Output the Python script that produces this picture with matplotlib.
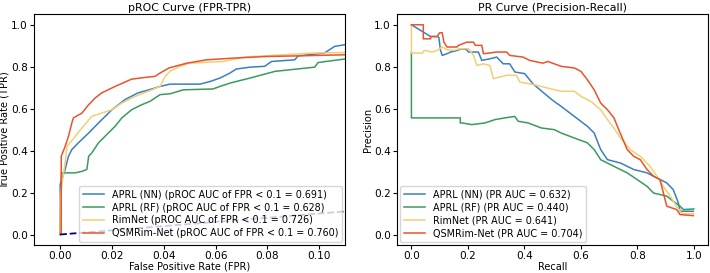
import matplotlib
matplotlib.use("Agg")
import matplotlib.pyplot as plt

# ---------------- data: pROC (FPR, TPR) ----------------
nn_fpr = [0.0, 0.0, 0.0019, 0.0032, 0.0045, 0.007, 0.011, 0.0148, 0.020, 0.025, 0.030, 0.0354,
          0.0386, 0.0424, 0.054, 0.058, 0.0617, 0.0656, 0.068, 0.0733, 0.079, 0.0816, 0.0906,
          0.0919, 0.102, 0.106, 0.11]
nn_tpr = [0.0, 0.24, 0.31, 0.373, 0.405, 0.437, 0.484, 0.532, 0.595, 0.643, 0.675, 0.694,
          0.706, 0.717, 0.717, 0.730, 0.746, 0.770, 0.789, 0.798, 0.802, 0.825, 0.833,
          0.852, 0.865, 0.897, 0.905]

rf_fpr = [0.0, 0.0005, 0.0058, 0.0084, 0.0103, 0.011, 0.0122, 0.0148, 0.0186, 0.0212, 0.0238,
          0.0276, 0.0315, 0.0347, 0.0386, 0.0424, 0.0476, 0.059, 0.0617, 0.0656, 0.0707,
          0.0733, 0.083, 0.0983, 0.0996, 0.11]
rf_tpr = [0.0, 0.294, 0.294, 0.301, 0.31, 0.373, 0.389, 0.437, 0.484, 0.516, 0.556,
          0.595, 0.619, 0.635, 0.667, 0.671, 0.690, 0.694, 0.706, 0.722, 0.738,
          0.746, 0.778, 0.798, 0.820, 0.837]

rim_fpr = [0.0, 0.0, 0.0019, 0.0026, 0.0058, 0.0084, 0.0122, 0.016, 0.020, 0.0238, 0.029,
           0.0354, 0.0386, 0.0405, 0.0424, 0.0463, 0.050, 0.063, 0.0713, 0.097, 0.11]
rim_tpr = [0.0, 0.18, 0.341, 0.42, 0.468, 0.508, 0.563, 0.579, 0.595, 0.627, 0.659,
           0.690, 0.706, 0.754, 0.778, 0.802, 0.817, 0.825, 0.846, 0.865, 0.868]

qsm_fpr = [0.0, 0.0004, 0.0004, 0.0019, 0.0032, 0.0045, 0.0051, 0.0084, 0.011, 0.0135, 0.016,
           0.0212, 0.0276, 0.0328, 0.0366, 0.0386, 0.042, 0.0489, 0.0566, 0.0668, 0.0797,
           0.0926, 0.11]
qsm_tpr = [0.0, 0.008, 0.373, 0.42, 0.468, 0.532, 0.556, 0.579, 0.619, 0.651, 0.675,
           0.706, 0.741, 0.749, 0.754, 0.77, 0.794, 0.817, 0.833, 0.841, 0.849,
           0.852, 0.857]

# ---------------- data: PR (Recall, Precision) ----------------
nn_rec = [0.0, 0.068, 0.091, 0.097, 0.103, 0.109, 0.126, 0.138, 0.156, 0.179, 0.196, 0.202,
          0.237, 0.249, 0.278, 0.302, 0.325, 0.348, 0.366, 0.401, 0.43, 0.465, 0.5, 0.53,
          0.577, 0.623, 0.647, 0.67, 0.694, 0.74, 0.787, 0.834, 0.857, 0.904, 0.927, 0.945,
          0.951, 0.998]
nn_prec = [1.0, 0.944, 0.944, 0.94, 0.878, 0.854, 0.862, 0.87, 0.875, 0.886, 0.881, 0.87,
           0.87, 0.830, 0.838, 0.846, 0.814, 0.814, 0.775, 0.767, 0.719, 0.679, 0.640, 0.611,
           0.563, 0.516, 0.484, 0.405, 0.357, 0.341, 0.31, 0.294, 0.278, 0.246, 0.214, 0.151,
           0.111, 0.111]

rf_rec = [0.0, 0.0, 0.0, 0.173, 0.173, 0.179, 0.214, 0.261, 0.296, 0.331, 0.366, 0.378, 0.413,
          0.46, 0.506, 0.53, 0.577, 0.623, 0.647, 0.67, 0.717, 0.764, 0.799, 0.834, 0.857,
          0.904, 0.927, 0.951, 0.963, 1.0]
rf_prec = [0.87, 0.87, 0.556, 0.556, 0.532, 0.532, 0.524, 0.532, 0.548, 0.556, 0.563, 0.54, 0.532,
           0.508, 0.5, 0.484, 0.46, 0.437, 0.405, 0.357, 0.325, 0.294, 0.262, 0.23, 0.198,
           0.183, 0.159, 0.135, 0.119, 0.122]

rim_rec = [0.0, 0.0, 0.039, 0.045, 0.074, 0.091, 0.109, 0.126, 0.15, 0.173, 0.202, 0.22,
           0.232, 0.255, 0.278, 0.29, 0.337, 0.372, 0.384, 0.436, 0.483, 0.53, 0.577, 0.6,
           0.635, 0.67, 0.694, 0.717, 0.74, 0.775, 0.81, 0.845, 0.869, 0.892, 0.916, 0.939,
           0.957, 0.998]
rim_prec = [1.0, 0.865, 0.865, 0.878, 0.870, 0.878, 0.894, 0.881, 0.878, 0.886, 0.886, 0.854,
            0.806, 0.814, 0.806, 0.743, 0.759, 0.759, 0.727, 0.714, 0.698, 0.683, 0.683, 0.659,
            0.635, 0.595, 0.548, 0.508, 0.46, 0.405, 0.373, 0.325, 0.278, 0.23, 0.183, 0.135,
            0.1, 0.1]

qsm_rec = [0.0, 0.042, 0.042, 0.068, 0.068, 0.091, 0.1, 0.109, 0.115, 0.126, 0.161, 0.167,
           0.196, 0.22, 0.226, 0.249, 0.255, 0.302, 0.337, 0.348, 0.395, 0.419, 0.465, 0.483,
           0.53, 0.577, 0.6, 0.623, 0.647, 0.67, 0.694, 0.717, 0.734, 0.764, 0.787, 0.81,
           0.834, 0.857, 0.88, 0.904, 0.939, 0.951, 0.998]
qsm_prec = [1.0, 1.0, 0.933, 0.933, 0.944, 0.944, 0.962, 0.962, 0.917, 0.894, 0.894, 0.902,
            0.917, 0.917, 0.902, 0.902, 0.862, 0.870, 0.870, 0.854, 0.846, 0.830, 0.817, 0.825,
            0.802, 0.794, 0.778, 0.738, 0.69, 0.627, 0.595, 0.556, 0.5, 0.405, 0.373, 0.357,
            0.31, 0.278, 0.262, 0.135, 0.119, 0.095, 0.09]

roc_labels = ["APRL (NN) (pROC AUC of FPR < 0.1 = 0.691)",
              "APRL (RF) (pROC AUC of FPR < 0.1 = 0.628)",
              "RimNet (pROC AUC of FPR < 0.1 = 0.726)",
              "QSMRim-Net (pROC AUC of FPR < 0.1 = 0.760)"]
pr_labels = ["APRL (NN) (PR AUC = 0.632)",
             "APRL (RF) (PR AUC = 0.440)",
             "RimNet (PR AUC = 0.641)",
             "QSMRim-Net (PR AUC = 0.704)"]

colors = ["#3c7ec2", "#3b9a5e", "#f3cf74", "#e9532d"]
FS_TICK = 7.6
FS_LAB = 7.1
FS_TITLE = 7.9
FS_LEG = 6.9

fig = plt.figure(figsize=(7.1, 2.73), dpi=100)
ax1 = fig.add_axes([34.3 / 710, 1 - 245 / 273, 310.7 / 710, (245 - 14.3) / 273])
ax2 = fig.add_axes([397.3 / 710, 1 - 245 / 273, 310.7 / 710, (245 - 14.3) / 273])

roc_x = [nn_fpr, rf_fpr, rim_fpr, qsm_fpr]
roc_y = [nn_tpr, rf_tpr, rim_tpr, qsm_tpr]
for xs, ys, c, lab in zip(roc_x, roc_y, colors, roc_labels):
    ax1.plot(xs, ys, color=c, lw=1.1, label=lab)
ax1.plot([0, 1], [0, 1], color="navy", lw=1.3, ls="--")
ax1.set_xlim(-0.01, 0.11)
ax1.set_ylim(-0.05, 1.05)
ax1.set_xticks([0, 0.02, 0.04, 0.06, 0.08, 0.10])
ax1.set_yticks([0, 0.2, 0.4, 0.6, 0.8, 1.0])
ax1.set_xlabel("False Positive Rate (FPR)", fontsize=FS_LAB, labelpad=0.5)
ax1.set_ylabel("True Positive Rate (TPR)", fontsize=FS_LAB, labelpad=1.0)
ax1.set_title("pROC Curve (FPR-TPR)", fontsize=FS_TITLE, pad=2.5)
ax1.tick_params(labelsize=FS_TICK, length=3, pad=1.5)
ax1.legend(loc="lower right", fontsize=FS_LEG, handlelength=2.2, borderpad=0.4,
           labelspacing=0.3, borderaxespad=0.3)

pr_x = [nn_rec, rf_rec, rim_rec, qsm_rec]
pr_y = [nn_prec, rf_prec, rim_prec, qsm_prec]
for xs, ys, c, lab in zip(pr_x, pr_y, colors, pr_labels):
    ax2.plot(xs, ys, color=c, lw=1.1, label=lab)
ax2.set_xlim(-0.05, 1.05)
ax2.set_ylim(-0.05, 1.05)
ax2.set_xticks([0, 0.2, 0.4, 0.6, 0.8, 1.0])
ax2.set_yticks([0, 0.2, 0.4, 0.6, 0.8, 1.0])
ax2.set_xlabel("Recall", fontsize=FS_LAB, labelpad=0.5)
ax2.set_ylabel("Precision", fontsize=FS_LAB, labelpad=1.0)
ax2.set_title("PR Curve (Precision-Recall)", fontsize=FS_TITLE, pad=2.5)
ax2.tick_params(labelsize=FS_TICK, length=3, pad=1.5)
ax2.legend(loc="lower left", fontsize=FS_LEG, handlelength=2.2, borderpad=0.4,
           labelspacing=0.3, borderaxespad=0.3)

fig.savefig("out.png", dpi=100)
